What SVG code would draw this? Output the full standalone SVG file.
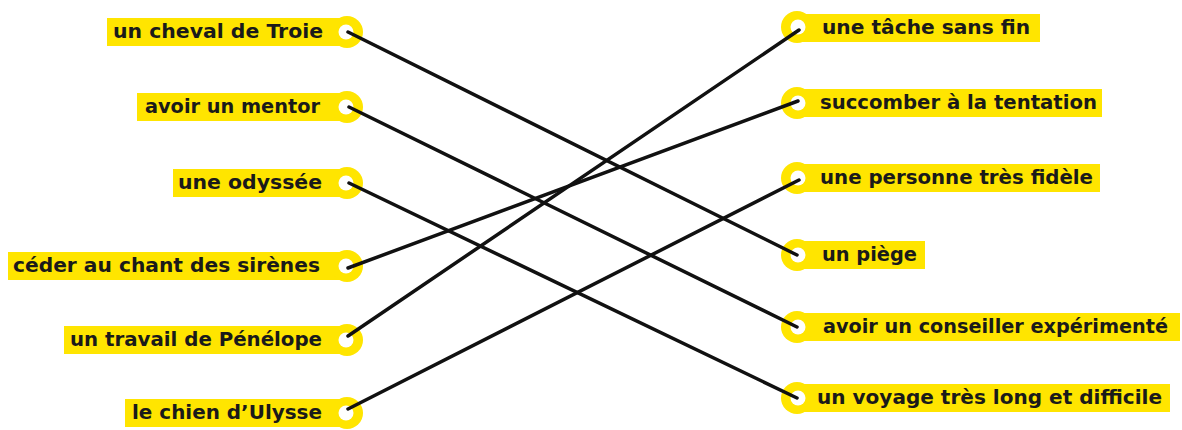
<svg xmlns="http://www.w3.org/2000/svg" width="1182" height="430" viewBox="0 0 1182 430">
<style>
.bar{fill:#FFE500}
.ring{fill:#FFE500}
.hole{fill:#FFFFFF}
.lbl{font-family:"DejaVu Sans","Liberation Sans",sans-serif;font-weight:bold;font-size:19px;fill:#1a1a1a}
.conn{stroke:#111;stroke-width:3.5;stroke-linecap:round;fill:none}
</style>
<rect width="1182" height="430" fill="#fff"/>
<g id="left-1"><rect class="bar" x="107" y="18" width="240" height="28"/><circle class="ring" cx="347" cy="32" r="16"/><circle class="hole" cx="346" cy="32" r="7.5"/><text class="lbl" x="113" y="38" textLength="210" lengthAdjust="spacingAndGlyphs">un cheval de Troie</text></g>
<g id="left-2"><rect class="bar" x="137" y="93" width="210" height="28"/><circle class="ring" cx="347" cy="107" r="16"/><circle class="hole" cx="346" cy="107" r="7.5"/><text class="lbl" x="145" y="113" textLength="175" lengthAdjust="spacingAndGlyphs">avoir un mentor</text></g>
<g id="left-3"><rect class="bar" x="173" y="169" width="174" height="28"/><circle class="ring" cx="347" cy="183" r="16"/><circle class="hole" cx="346" cy="183" r="7.5"/><text class="lbl" x="178" y="189" textLength="144" lengthAdjust="spacingAndGlyphs">une odyssée</text></g>
<g id="left-4"><rect class="bar" x="8" y="252" width="339" height="28"/><circle class="ring" cx="347" cy="266" r="16"/><circle class="hole" cx="346" cy="266" r="7.5"/><text class="lbl" x="13" y="272" textLength="307" lengthAdjust="spacingAndGlyphs">céder au chant des sirènes</text></g>
<g id="left-5"><rect class="bar" x="64" y="326" width="283" height="28"/><circle class="ring" cx="347" cy="340" r="16"/><circle class="hole" cx="346" cy="340" r="7.5"/><text class="lbl" x="70" y="346" textLength="252" lengthAdjust="spacingAndGlyphs">un travail de Pénélope</text></g>
<g id="left-6"><rect class="bar" x="125" y="399" width="222" height="28"/><circle class="ring" cx="347" cy="413" r="16"/><circle class="hole" cx="346" cy="413" r="7.5"/><text class="lbl" x="132" y="419" textLength="190" lengthAdjust="spacingAndGlyphs">le chien d’Ulysse</text></g>
<g id="right-1"><rect class="bar" x="797" y="14" width="243" height="28"/><circle class="ring" cx="797" cy="27" r="16"/><circle class="hole" cx="798" cy="27" r="7.5"/><text class="lbl" x="822" y="34" textLength="208" lengthAdjust="spacingAndGlyphs">une tâche sans fin</text></g>
<g id="right-2"><rect class="bar" x="797" y="89" width="305" height="28"/><circle class="ring" cx="797" cy="103" r="16"/><circle class="hole" cx="798" cy="103" r="7.5"/><text class="lbl" x="820" y="109" textLength="277" lengthAdjust="spacingAndGlyphs">succomber à la tentation</text></g>
<g id="right-3"><rect class="bar" x="797" y="164" width="303" height="28"/><circle class="ring" cx="797" cy="178" r="16"/><circle class="hole" cx="798" cy="178" r="7.5"/><text class="lbl" x="820" y="184" textLength="273" lengthAdjust="spacingAndGlyphs">une personne très fidèle</text></g>
<g id="right-4"><rect class="bar" x="797" y="241" width="128" height="28"/><circle class="ring" cx="797" cy="255" r="16"/><circle class="hole" cx="798" cy="255" r="7.5"/><text class="lbl" x="822" y="261" textLength="95" lengthAdjust="spacingAndGlyphs">un piège</text></g>
<g id="right-5"><rect class="bar" x="797" y="313" width="383" height="28"/><circle class="ring" cx="797" cy="327" r="16"/><circle class="hole" cx="798" cy="327" r="7.5"/><text class="lbl" x="823" y="333" textLength="345" lengthAdjust="spacingAndGlyphs">avoir un conseiller expérimenté</text></g>
<g id="right-6"><rect class="bar" x="797" y="384" width="373" height="28"/><circle class="ring" cx="797" cy="398" r="16"/><circle class="hole" cx="798" cy="398" r="7.5"/><text class="lbl" x="817" y="404" textLength="345" lengthAdjust="spacingAndGlyphs">un voyage très long et difficile</text></g>
<g id="connectors">
<line class="conn" x1="348" y1="32" x2="797" y2="255"/>
<line class="conn" x1="349" y1="107" x2="797" y2="327"/>
<line class="conn" x1="349" y1="183" x2="797" y2="398"/>
<line class="conn" x1="348" y1="268" x2="798" y2="101"/>
<line class="conn" x1="348" y1="336" x2="799" y2="30"/>
<line class="conn" x1="348" y1="409" x2="799" y2="180"/>
</g>
</svg>
